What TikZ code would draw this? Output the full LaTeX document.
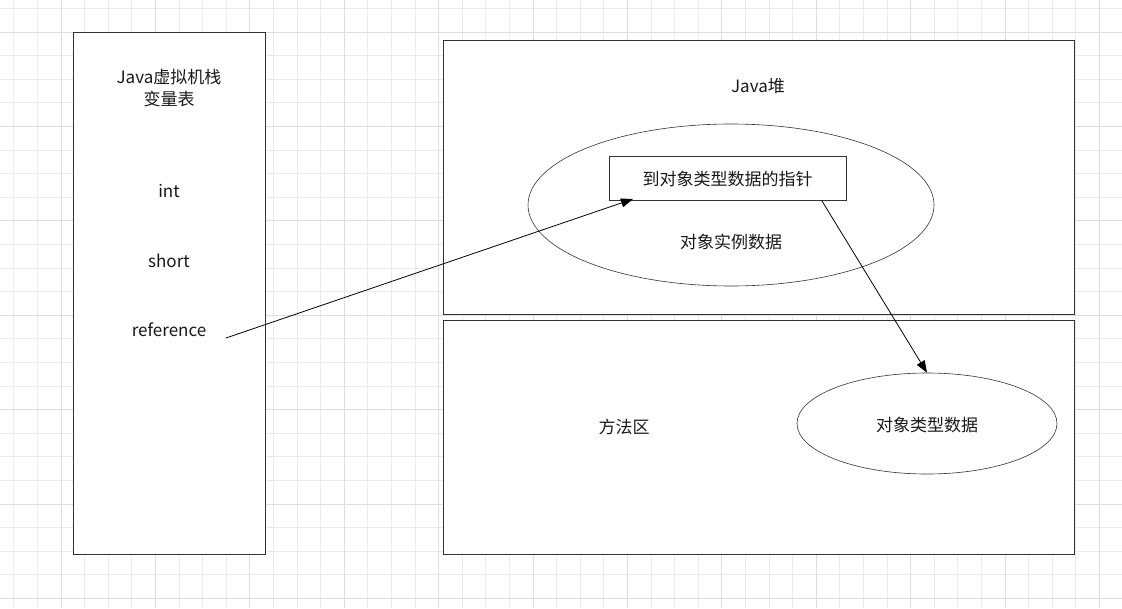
\documentclass[tikz,border=0pt]{standalone}
\usepackage{fontspec}
\setmainfont{Noto Sans CJK SC}
\usetikzlibrary{shapes.geometric,arrows.meta}
\begin{document}
\begin{tikzpicture}[x=1pt,y=-1pt,
  box/.style={draw=black!80,line width=0.8pt,fill=white,minimum width=#1,inner sep=0pt},
  oval/.style={draw=black!80,line width=0.6pt,fill=white,ellipse,inner sep=0pt},
  lbl/.style={font=\fontsize{17}{22}\selectfont,text=black!90,align=center,inner sep=0pt},
  link/.style={draw=black,line width=0.8pt,-{Triangle[length=12pt,width=9pt]}}]
  \useasboundingbox (0,0) rectangle (1122,608);
  \fill[white] (0,0) rectangle (1122,608);
  % background grid: minor lines and every fourth line a bit darker
  \foreach \i in {0,...,47} {
    \pgfmathsetmacro\gx{13.8+23.6*\i}
    \draw[line width=0.8pt,draw=black!8] (\gx,0) -- (\gx,608);
  }
  \foreach \i in {0,...,25} {
    \pgfmathsetmacro\gy{8.4+23.6*\i}
    \draw[line width=0.8pt,draw=black!8] (0,\gy) -- (1122,\gy);
  }
  \foreach \i in {-1,...,11} {
    \pgfmathsetmacro\gx{61+94.4*\i}
    \draw[line width=0.9pt,draw=black!13] (\gx,0) -- (\gx,608);
  }
  \foreach \i in {0,...,6} {
    \pgfmathsetmacro\gy{32+94.4*\i}
    \draw[line width=0.9pt,draw=black!13] (0,\gy) -- (1122,\gy);
  }

  % Java virtual machine stack
  \node[box=192pt,minimum height=522pt] (stack) at (169,293) {};
  \node[lbl] (stacktitle) at (169,88) {Java虚拟机栈\\变量表};
  \node[lbl] (vint) at (169,191) {int};
  \node[lbl] (vshort) at (169,261) {short};
  \node[lbl] (vref) at (169,330) {reference};

  % heap and method area
  \node[box=631pt,minimum height=274pt] (heap) at (758.5,177) {};
  \node[box=631pt,minimum height=234pt] (method) at (758.5,437) {};
  \node[lbl] (heaptitle) at (758,86) {Java堆};
  \node[lbl] (methodtitle) at (624,427) {方法区};

  % object instance data with its type pointer
  \node[oval,minimum width=406pt,minimum height=162pt] (inst) at (731,205) {};
  \node[lbl] (insttext) at (731,242) {对象实例数据};
  \node[box=237pt,minimum height=44pt] (ptr) at (727.5,178) {};
  \node[lbl] (ptrtext) at (727.5,179) {到对象类型数据的指针};

  % object type data in the method area
  \node[oval,minimum width=260pt,minimum height=101pt] (type) at (927,423.5) {};
  \node[lbl] (typetext) at (927,425) {对象类型数据};

  % connectors
  \coordinate (refout) at (226,338);
  \coordinate (ptrin) at (633,199);
  \coordinate (ptrout) at (822,201);
  \draw[link] (refout) -- (ptrin);
  \draw[link] (ptrout) -- (type.north);
\end{tikzpicture}
\end{document}
